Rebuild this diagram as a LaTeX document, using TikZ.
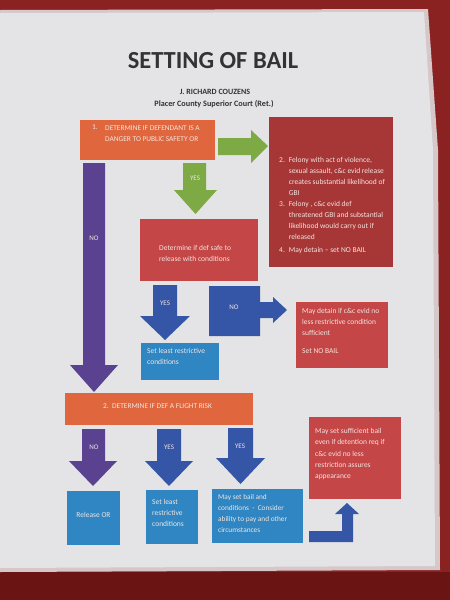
\documentclass[tikz,border=0pt]{standalone}
\usepackage{fontspec}
\setmainfont{Carlito}
\definecolor{bgred}{HTML}{8A2222}
\definecolor{bgdark}{HTML}{6A1414}
\definecolor{paper}{HTML}{E4E4E6}
\definecolor{orng}{HTML}{E0663E}
\definecolor{grn}{HTML}{7DAA44}
\definecolor{purp}{HTML}{5A4290}
\definecolor{blu}{HTML}{3556A6}
\definecolor{lblu}{HTML}{2F86C2}
\definecolor{redbox}{HTML}{C44646}
\definecolor{darkred}{HTML}{A73737}
\definecolor{txtlight}{HTML}{F2E4E0}
\definecolor{titlegray}{HTML}{333333}
\newcommand\dnarrowx[8]{% color, shaftL, shaftR, top, headTop, headL, headR, tip
  \fill[#1] (#2,#4) -- (#3,#4) -- (#3,#5) -- (#7,#5) -- ({(#6+#7)/2},#8) -- (#6,#5) -- (#2,#5) -- cycle;}
\begin{document}
\begin{tikzpicture}[x=1pt,y=-1pt,
  boxtext/.style={text=txtlight,font=\fontsize{7.5}{10.9}\selectfont,inner sep=0pt,align=left},
  captext/.style={text=txtlight,font=\fontsize{7.4}{11.5}\selectfont,inner sep=0pt,align=left},
  lbl/.style={text=txtlight,font=\fontsize{7}{8}\selectfont,inner sep=0pt}]
\useasboundingbox (0,0) rectangle (450,600);
% background
\fill[bgred] (0,0) rectangle (450,600);
\fill[bgdark] (0,572) rectangle (450,600);
\fill[paper!85!bgred] (0,10) -- (428,9) -- (438,150) -- (440,570) -- (0,572) -- cycle;
\fill[paper] (0,13) -- (424,12) -- (433,150) -- (435,566) -- (0,568) -- cycle;
% title
\node[text=titlegray,font=\bfseries\fontsize{24.5}{26}\selectfont,inner sep=0pt] (title) at (213,61) {SETTING OF BAIL};
\node[text=titlegray,font=\bfseries\fontsize{8}{9}\selectfont,inner sep=0pt] (author) at (215,92) {J. RICHARD COUZENS};
\node[text=titlegray,font=\bfseries\fontsize{8.2}{9}\selectfont,inner sep=0pt] (court) at (214,104) {Placer County Superior Court (Ret.)};
% orange box 1
\fill[orng] (80,120) rectangle (215,160);
\node[captext,anchor=north west] (q1n) at (92,125) {1.};
\node[captext,anchor=north west] (q1) at (105,125)
  {DETERMINE IF DEFENDANT IS A\\DANGER TO PUBLIC SAFETY OR};
% green right arrow
\fill[grn] (218,138) -- (251,138) -- (251,130) -- (268,146) -- (251,163) -- (251,155) -- (218,155) -- cycle;
% top dark red box
\fill[darkred] (269,117) rectangle (393,267);
\node[boxtext,anchor=north west] (detain) at (279,155)
  {\begin{tabular}{@{}l@{\hspace{4pt}}l@{}}
   2. & Felony with act of violence,\\
      & sexual assault, c\&c evid release\\
      & creates substantial likelihood of\\
      & GBI\\
   3. & Felony , c\&c evid def\\
      & threatened GBI and substantial\\
      & likelihood would carry out if\\
      & released\\[2pt]
   4. & May detain -- set NO BAIL
   \end{tabular}};
% green down arrow
\dnarrowx{grn}{183}{206}{163}{190}{174}{217}{214}
\node[lbl] (yes1) at (195,178) {YES};
% purple long arrow
\dnarrowx{purp}{83}{105}{163}{365}{70}{118}{392}
\node[lbl] (no1) at (94,238) {NO};
% red box safe
\fill[redbox] (140,219) rectangle (258,281);
\node[boxtext,anchor=north west] (safe) at (159,245) {Determine if def safe to\\release with conditions};
% blue yes arrow
\dnarrowx{blu}{153}{177}{285}{316}{140}{190}{340}
\node[lbl] (yes2) at (165,303) {YES};
% blue no box + arrow
\fill[blu] (209,286) -- (260,286) -- (260,302) -- (273,302) -- (273,297) -- (287,310) -- (273,323) -- (273,318) -- (260,318) -- (260,336) -- (209,336) -- cycle;
\node[lbl] (no2) at (234,307) {NO};
% light blue set least
\fill[lblu] (141,343) rectangle (219,380);
\node[boxtext,anchor=north west] (least1) at (147,348) {Set least restrictive\\conditions};
% red box may detain
\fill[redbox] (296,302) rectangle (388,368);
\node[boxtext,anchor=north west] (maydet) at (302,308) {May detain if c\&c evid no\\less restrictive condition\\sufficient\\[7pt]Set NO BAIL};
% orange box 2
\fill[orng] (65,393) rectangle (253,425);
\node[captext,anchor=west] (q2) at (103,406) {2.\ \ DETERMINE IF DEF A FLIGHT RISK};
% bottom arrows
\dnarrowx{purp}{82}{105}{429}{461}{69}{117}{486}
\node[lbl] (no3) at (94,447) {NO};
\dnarrowx{blu}{157}{181}{429}{461}{145}{193}{486}
\node[lbl] (yes3) at (169,447) {YES};
\dnarrowx{blu}{228}{253}{428}{458}{216}{265}{484}
\node[lbl] (yes4) at (240,446) {YES};
% bottom boxes
\fill[lblu] (67,491) rectangle (120,545);
\node[boxtext] (release) at (93.5,515) {Release OR};
\fill[lblu] (146,490) rectangle (198,544);
\node[boxtext,anchor=north west] (least2) at (152,499) {Set least\\restrictive\\conditions};
\fill[lblu] (212,489) rectangle (303,543);
\node[boxtext,anchor=north west,font=\fontsize{7.3}{11.2}\selectfont] (mayset) at (218,494) {May set bail and\\conditions \ - \ Consider\\ability to pay and other\\circumstances};
% bottom red box
\fill[redbox] (309,417) rectangle (401,499);
\node[boxtext,anchor=north west,font=\fontsize{7.5}{11.3}\selectfont] (suff) at (315,428) {May set sufficient bail\\even if detention req if\\c\&c evid no less\\restriction assures\\appearance};
% elbow arrow
\fill[blu] (309,531) -- (342,531) -- (342,514) -- (335,514) -- (347,503) -- (359,514) -- (353,514) -- (353,542) -- (309,542) -- cycle;
\end{tikzpicture}
\end{document}
